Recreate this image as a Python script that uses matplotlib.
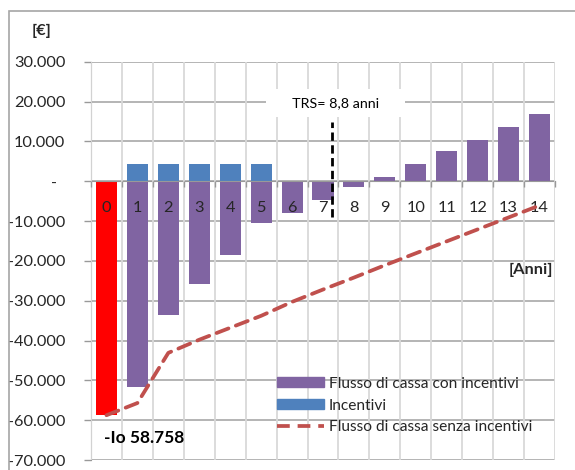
import matplotlib
matplotlib.use("Agg")
import matplotlib.pyplot as plt
import numpy as np
from matplotlib.ticker import FuncFormatter, MultipleLocator, FixedLocator, NullFormatter
from matplotlib.patches import Patch, Rectangle
from matplotlib.lines import Line2D

plt.rcParams['font.family'] = ['Lato', 'DejaVu Sans']

# ---- data ----
anni = ['0', '1', '2', '3', '4', '5', '6', '7', '8', '9', '10', '11', '12', '13', '14']
flusso_con_incentivi = [-58758, -51600, -33600, -25800, -18500, -10600, -7900, -4700,
                        -1500, 1100, 4300, 7600, 10300, 13500, 16800]
incentivi = [0, 4250, 4250, 4250, 4250, 4250, 0, 0, 0, 0, 0, 0, 0, 0, 0]
flusso_senza_incentivi = [-58758, -55700, -43100, -39800, -36800, -33800, -30300, -27200,
                          -24200, -21100, -18100, -15100, -12100, -9100, -6100]
investimento_label = '-Io 58.758'
trs_label = 'TRS= 8,8 anni'
legend_labels = ['Flusso di cassa con incentivi', 'Incentivi', 'Flusso di cassa senza incentivi']

# ---- style ----
C_PURPLE = '#8064A2'
C_BLUE = '#4F81BD'
C_RED = '#FF0000'
C_LINE = '#C0504D'
TXT = '#262626'
FS = 11.8

W, H = 575, 470
fig = plt.figure(figsize=(W / 100, H / 100), dpi=100)
ax = fig.add_axes([91 / W, 10 / H, 464 / W, 398.3 / H])

x = np.arange(len(anni))
bar_colors = [C_RED] + [C_PURPLE] * (len(anni) - 1)
ax.bar(x, flusso_con_incentivi, width=0.68, color=bar_colors, zorder=3)
ax.bar(x, incentivi, width=0.68, color=C_BLUE, zorder=3)
ax.plot(x, flusso_senza_incentivi, color=C_LINE, lw=2.7, dashes=(3.4, 2.1),
        dash_capstyle='round', zorder=6)

ax.set_xlim(-0.5, len(anni) - 0.5)
ax.set_ylim(-70000, 30000)

# y axis
ax.yaxis.set_major_locator(MultipleLocator(10000))
def yfmt(v, pos):
    if abs(v) < 1:
        return '-  '
    return f"{v:,.0f}".replace(',', '.')
ax.yaxis.set_major_formatter(FuncFormatter(yfmt))
ax.tick_params(axis='y', length=5, width=1, color='#999999', direction='out',
               pad=13.5, labelsize=FS, labelcolor=TXT)
ax.grid(axis='y', color='#a0a0a0', lw=1.1)
ax.yaxis.set_zorder(0.5)

# x axis at zero
ax.spines['bottom'].set_position(('data', 0))
ax.spines['bottom'].set_color('#999999')
ax.spines['bottom'].set_zorder(4)
ax.spines['left'].set_color('#999999')
ax.spines['top'].set_visible(False)
ax.spines['right'].set_visible(False)
ax.xaxis.set_major_locator(FixedLocator(np.arange(-0.5, len(anni), 1.0)))
ax.xaxis.set_major_formatter(NullFormatter())
ax.xaxis.set_minor_locator(FixedLocator(x))
ax.set_xticklabels(anni, minor=True)
ax.tick_params(axis='x', which='major', length=4, width=1, color='#999999', direction='out')
ax.tick_params(axis='x', which='minor', length=0, pad=14, labelsize=FS, labelcolor=TXT)
ax.grid(axis='x', which='major', color='#d9d9d9', lw=1.3)
ax.xaxis.set_zorder(5)

# TRS marker
trs_pos = 7.3
ax.vlines(trs_pos, -8900, 14900, colors='black', lw=2.0, linestyles=(0, (3, 1.6)), zorder=7)
ax.text(7.42, 19700, '     ' + trs_label + '     ', ha='center', va='center', fontsize=10.3,
        color='black', zorder=8,
        bbox=dict(boxstyle='square,pad=0.55', fc='white', ec='none'))

# annotations
ax.text(-0.08, -64600, investimento_label, ha='left', va='center', fontsize=12.5,
        color='black', fontweight='bold', zorder=8)
ax.text(14.44, -22400, '[Anni]', ha='right', va='center', fontsize=FS,
        color=TXT, fontweight='bold', zorder=8)
fig.text(42 / W, 1 - 31 / H, '[€]', ha='center', va='center', fontsize=FS,
         color=TXT, fontweight='bold')

# legend
handles = [Patch(color=C_PURPLE), Patch(color=C_BLUE),
           Line2D([], [], color=C_LINE, lw=2.7, dashes=(3.4, 2.1))]
leg = fig.legend(handles, legend_labels, loc='center left',
                 bbox_to_anchor=(277 / W, 1 - 405.5 / H), frameon=False,
                 fontsize=11.2, handlelength=3.0, handleheight=0.65,
                 handletextpad=0.35, labelspacing=0.5, borderpad=0, borderaxespad=0,
                 labelcolor=TXT)

# outer chart border
fig.add_artist(Rectangle((9 / W, -0.1), 1.2, 1.1 - 11 / H, transform=fig.transFigure,
                         fill=False, ec='#a6a6a6', lw=1.2))

fig.savefig('out.png', dpi=100)
